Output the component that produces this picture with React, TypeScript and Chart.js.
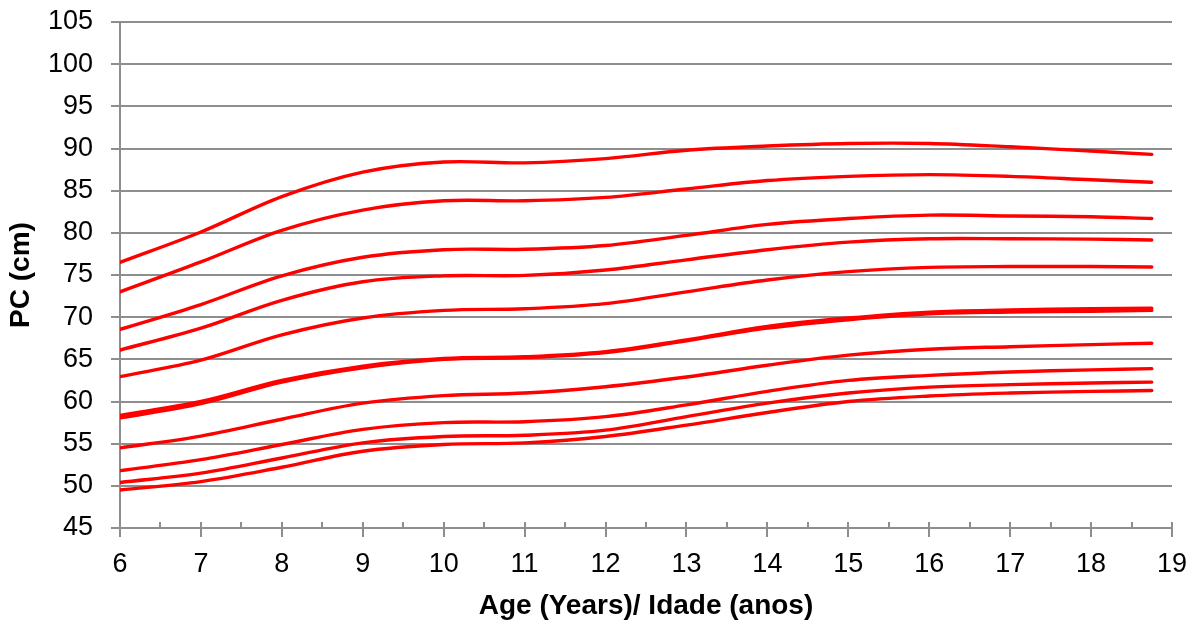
import React, { useEffect, useRef } from 'react';
import { Chart, registerables } from 'chart.js';

Chart.register(...registerables);

// Ages (years) where each percentile curve was sampled
const ages = [6, 7, 8, 9, 10, 11, 12, 13, 14, 15, 16, 17, 18, 18.75];

// PC (cm) curves, top to bottom
const curve1 = [76.5, 80.1, 84.3, 87.2, 88.4, 88.3, 88.8, 89.8, 90.3, 90.6, 90.6, 90.2, 89.7, 89.3];
const curve2 = [73.0, 76.55, 80.3, 82.7, 83.8, 83.8, 84.2, 85.2, 86.2, 86.7, 86.9, 86.7, 86.3, 86.0];
const curve3 = [68.55, 71.5, 74.9, 77.1, 78.0, 78.05, 78.5, 79.7, 81.0, 81.7, 82.1, 82.0, 81.9, 81.7];
const curve4 = [66.1, 68.7, 72.0, 74.2, 74.9, 74.95, 75.6, 76.8, 78.0, 78.9, 79.3, 79.3, 79.25, 79.15];
const curve5 = [62.95, 64.9, 67.9, 69.9, 70.8, 71.0, 71.6, 73.0, 74.4, 75.4, 75.9, 76.0, 76.0, 75.95];
const curve6 = [58.35, 60.0, 62.5, 64.2, 65.1, 65.3, 65.9, 67.3, 68.9, 69.9, 70.6, 70.85, 71.0, 71.05];
const curve7 = [58.05, 59.75, 62.3, 64.0, 65.0, 65.2, 65.8, 67.2, 68.7, 69.7, 70.4, 70.6, 70.7, 70.8];
const curve8 = [54.5, 55.9, 57.9, 59.8, 60.7, 61.0, 61.75, 62.9, 64.3, 65.5, 66.2, 66.5, 66.75, 66.9];
const curve9 = [51.8, 53.1, 54.9, 56.7, 57.5, 57.6, 58.2, 59.6, 61.2, 62.5, 63.1, 63.5, 63.75, 63.9];
const curve10 = [50.4, 51.5, 53.3, 55.1, 55.85, 56.0, 56.6, 58.2, 59.8, 61.0, 61.7, 62.0, 62.2, 62.3];
const curve11 = [49.5, 50.5, 52.2, 54.1, 54.9, 55.1, 55.85, 57.2, 58.7, 60.0, 60.65, 61.0, 61.2, 61.3];

const allCurves = [curve1, curve2, curve3, curve4, curve5, curve6, curve7, curve8, curve9, curve10, curve11];

// Axis ranges / ticks
const xMin = 6;
const xMax = 19;
const xMajorStep = 1;
const xMinorStep = 0.5;
const yMin = 45;
const yMax = 105;
const yStep = 5;

const xTitle = 'Age (Years)/ Idade (anos)';
const yTitle = 'PC (cm)';

const GRID = '#8e8e8e';
const FONT = "'Liberation Sans', Arial, sans-serif";

const innerTicksPlugin = {
  id: 'innerTicks',
  afterDraw(chart: any) {
    const xs = chart.scales.x;
    const { ctx } = chart;
    const bottom = chart.chartArea.bottom;
    ctx.save();
    ctx.strokeStyle = GRID;
    ctx.lineWidth = 2;
    for (let v = xMin + xMinorStep; v <= xMax + 1e-9; v += xMinorStep) {
      const px = Math.round(xs.getPixelForValue(v));
      ctx.beginPath();
      ctx.moveTo(px, bottom);
      ctx.lineTo(px, bottom - 6);
      ctx.stroke();
    }
    ctx.restore();
  },
};

export default function App() {
  const ref = useRef<HTMLCanvasElement | null>(null);

  useEffect(() => {
    if (!ref.current) return;
    const datasets = allCurves.map((c, i) => ({
      label: 'P' + (i + 1),
      data: ages.map((a, j) => ({ x: a, y: c[j] })),
      borderColor: '#ff0000',
      backgroundColor: '#ff0000',
      borderWidth: 3.4,
      pointRadius: 0,
      tension: 0.35,
      borderCapStyle: 'round' as const,
      fill: false,
    }));

    const chart = new Chart(ref.current, {
      type: 'line',
      data: { datasets },
      options: {
        animation: false,
        responsive: true,
        maintainAspectRatio: false,
        layout: { padding: { top: 22, right: 22, left: 0, bottom: 0 } },
        plugins: {
          legend: { display: false },
          tooltip: { enabled: false },
        },
        scales: {
          x: {
            type: 'linear',
            min: xMin,
            max: xMax,
            afterFit: (s: any) => {
              s.height = 96;
              s.paddingLeft = 0;
              s.paddingRight = 0;
            },
            ticks: {
              stepSize: xMajorStep,
              autoSkip: false,
              maxRotation: 0,
              padding: 11,
              color: '#000',
              font: { family: FONT, size: 27 },
            },
            grid: {
              drawOnChartArea: false,
              drawTicks: true,
              tickLength: 9,
              color: GRID,
              lineWidth: 2,
            },
            border: { display: true, color: GRID, width: 2 },
            title: {
              display: true,
              text: xTitle,
              color: '#000',
              font: { family: FONT, size: 28, weight: 'bold' },
              padding: { top: 0, bottom: 1 },
            },
          },
          y: {
            type: 'linear',
            min: yMin,
            max: yMax,
            afterFit: (s: any) => {
              s.width = 120;
              s.paddingTop = 0;
              s.paddingBottom = 0;
            },
            ticks: {
              stepSize: yStep,
              padding: 18,
              color: '#000',
              font: { family: FONT, size: 27 },
            },
            grid: {
              drawTicks: true,
              tickLength: 9,
              color: GRID,
              lineWidth: 2,
            },
            border: { display: true, color: GRID, width: 2 },
            title: {
              display: true,
              text: yTitle,
              color: '#000',
              font: { family: FONT, size: 28, weight: 'bold' },
              padding: { top: 4, bottom: 0 },
            },
          },
        },
      },
      plugins: [innerTicksPlugin],
    });
    return () => chart.destroy();
  }, []);

  return (
    <div style={{ position: 'absolute', left: 0, top: 0, width: 1194, height: 624, background: '#fff' }}>
      <canvas ref={ref} />
    </div>
  );
}
